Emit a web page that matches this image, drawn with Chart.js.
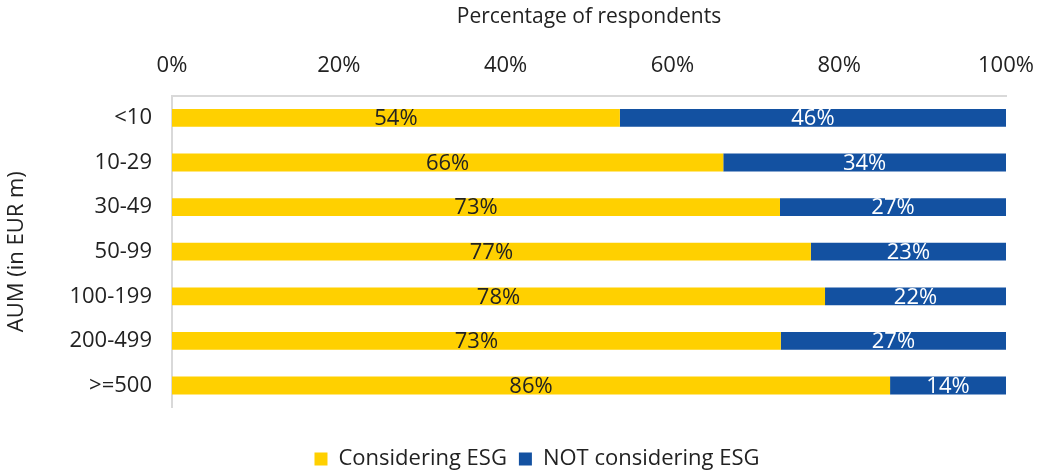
<!DOCTYPE html>
<html lang="en">
<head>
  <meta charset="UTF-8"/>
  <title>ESG consideration by AUM</title>
  <script src="https://cdn.jsdelivr.net/npm/chart.js"></script>
  <style>
    body { margin: 0; padding: 0; background: #fff; }
    .wrap { width: 1038px; height: 473px; }
  </style>
</head>
<body>
  <div class="wrap"><canvas id="esgChart"></canvas></div>
  <script>
// data
const aumBands = ['<10', '10-29', '30-49', '50-99', '100-199', '200-499', '>=500'];
const considering = [53.7, 66.1, 72.9, 76.6, 78.3, 73.0, 86.1];
const notConsidering = [46.3, 33.9, 27.1, 23.4, 21.7, 27.0, 13.9];
const xTicks = [0, 20, 40, 60, 80, 100];

const FONT = "'Open Sans', 'DejaVu Sans', sans-serif";
const YELLOW = '#FFD000';
const BLUE = '#1351A1';

// draws the percentage inside each bar segment
const segmentLabels = {
  id: 'segmentLabels',
  afterDatasetsDraw(chart) {
    const ctx = chart.ctx;
    ctx.save();
    ctx.font = '22px ' + FONT;
    ctx.textAlign = 'center';
    ctx.textBaseline = 'middle';
    chart.data.datasets.forEach((ds, i) => {
      const meta = chart.getDatasetMeta(i);
      meta.data.forEach((bar, j) => {
        const cx = (bar.x + bar.base) / 2;
        ctx.fillStyle = i === 0 ? '#222' : '#fff';
        ctx.fillText(Math.round(ds.data[j]) + '%', cx, bar.y + 1);
      });
    });
    ctx.restore();
  }
};

// nudge the legend right and down, like the original
const legendShift = {
  id: 'legendShift',
  afterLayout(chart) {
    const lg = chart.legend;
    if (lg) { lg.left += 32; lg.right += 32; lg.top += 7; lg.bottom += 7; }
  }
};

new Chart(document.getElementById('esgChart'), {
  type: 'bar',
  data: {
    labels: aumBands,
    datasets: [
      { label: 'Considering ESG', data: considering, backgroundColor: YELLOW, barPercentage: 0.4, categoryPercentage: 1 },
      { label: 'NOT considering ESG', data: notConsidering, backgroundColor: BLUE, barPercentage: 0.4, categoryPercentage: 1 }
    ]
  },
  options: {
    indexAxis: 'y',
    responsive: true,
    maintainAspectRatio: false,
    animation: false,
    layout: { padding: { left: 4, right: 32, top: 4, bottom: 0 } },
    scales: {
      x: {
        position: 'top',
        stacked: true,
        min: 0, max: 100,
        afterBuildTicks(scale) { scale.ticks = xTicks.map(v => ({ value: v })); },
        afterFit(scale) { scale.paddingLeft = 0; scale.paddingRight = 0; },
        grid: { display: false, drawTicks: false },
        border: { color: '#d9d9d9', width: 2 },
        ticks: { color: '#222', font: { family: FONT, size: 22 }, padding: 17, callback: v => v + '%' },
        title: { display: true, text: 'Percentage of respondents', color: '#222', font: { family: FONT, size: 21 }, padding: { top: 0, bottom: 6 } }
      },
      y: {
        stacked: true,
        grid: { display: false, drawTicks: false },
        border: { color: '#d9d9d9', width: 2 },
        ticks: { color: '#222', font: { family: FONT, size: 22 }, padding: 20 },
        title: { display: true, text: 'AUM (in EUR m)', color: '#222', font: { family: FONT, size: 22 }, padding: { top: 0, bottom: 0 } },
        afterFit(scale) { scale.width = 168; }
      }
    },
    plugins: {
      legend: {
        position: 'bottom',
        title: { display: true, text: '', font: { size: 1 }, padding: { top: 0, bottom: 20 } },
        labels: { color: '#222', font: { family: FONT, size: 22 }, boxWidth: 13, boxHeight: 13, padding: 12 }
      },
      tooltip: { enabled: false }
    }
  },
  plugins: [segmentLabels, legendShift]
});
  </script>
</body>
</html>
